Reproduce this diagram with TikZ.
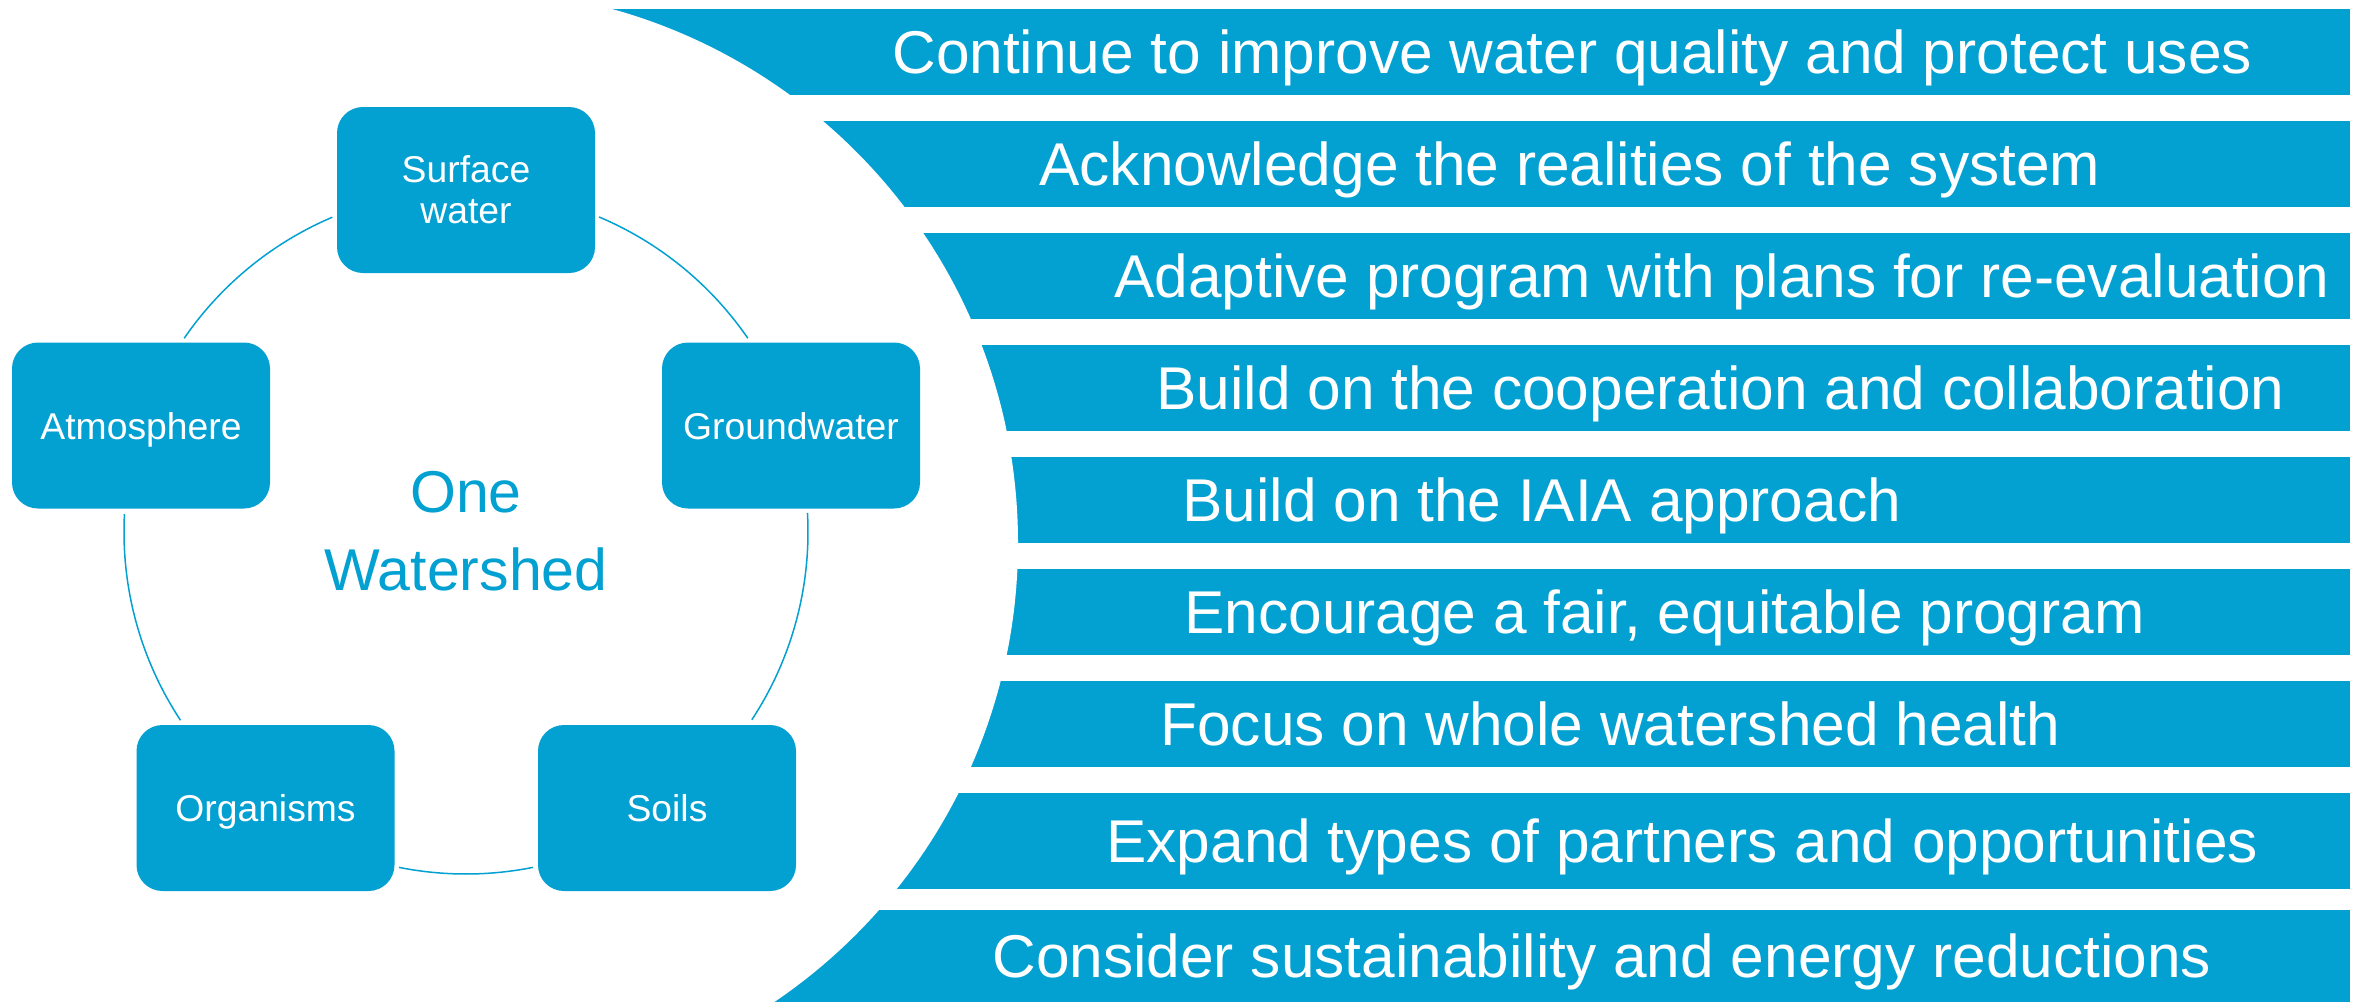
\documentclass[tikz,border=0pt]{standalone}
\usepackage{fontspec}
\setmainfont{Liberation Sans}
\definecolor{wblue}{HTML}{03A0D2}
\begin{document}
\begin{tikzpicture}[x=0.5pt,y=-0.5pt,
  box/.style={fill=wblue, rounded corners=13pt, minimum width=129pt, minimum height=83pt,
    inner sep=0pt, text=white, align=center, font=\fontsize{18.65}{20.5}\selectfont},
  onebox/.style={box, text depth=0pt},
  barfill/.style={fill=wblue},
  bartext/.style={anchor=base west, text=white, inner sep=0pt, font=\fontsize{30.2}{36}\selectfont},
  bigtext/.style={anchor=base, text=wblue, inner sep=0pt, font=\fontsize{29.5}{36}\selectfont},
  cyc/.style={draw=wblue, line width=0.75pt}]
\useasboundingbox (0,0) rectangle (2364,1002);
\clip (0,0) rectangle (2364,1002);
% bars
\foreach \t/\b in {9/95,121/207,233/319,345/431,457/543,569/655,681/767,793/889,910/1002}
  \fill[barfill] (464,\t) rectangle (2350,\b);
% white disc cutting the bars
\fill[white] (464,543) circle[radius=277pt];
% cycle
\coordinate (C) at (466,532);
\node[box] (surf) at (466,190) {Surface\\water};
\node[onebox] (ground) at (791,425.5) {Groundwater};
\node[onebox] (soils) at (667,808) {Soils};
\node[onebox] (org) at (265.5,808) {Organisms};
\node[onebox] (atmo) at (141,425.5) {Atmosphere};
\draw[cyc] ([shift={(-67.1:342)}]C) arc[start angle=-67.1, end angle=-34.5, radius=342];
\draw[cyc] ([shift={(-113:342)}]C) arc[start angle=-113, end angle=-145.5, radius=342];
\draw[cyc] ([shift={(-177:342)}]C) arc[start angle=-177, end angle=-213.4, radius=342];
\draw[cyc] ([shift={(101.3:342)}]C) arc[start angle=101.3, end angle=78.7, radius=342];
\draw[cyc] ([shift={(33.3:342)}]C) arc[start angle=33.3, end angle=-3.2, radius=342];
\node[bigtext] (one) at (466,512) {One};
\node[bigtext] (ws) at (466,590) {Watershed};
% bar texts
\node[bartext] (t1) at (892,73.5) {Continue to improve water quality and protect uses};
\node[bartext] (t2) at (1039,185.5) {Acknowledge the realities of the system};
\node[bartext] (t3) at (1114,297.5) {Adaptive program with plans for re-evaluation};
\node[bartext] (t4) at (1156,409.5) {Build on the cooperation and collaboration};
\node[bartext] (t5) at (1182,521.5) {Build on the IAIA approach};
\node[bartext] (t6) at (1184,633.5) {Encourage a fair, equitable program};
\node[bartext] (t7) at (1160,745.5) {Focus on whole watershed health};
\node[bartext] (t8) at (1106,862.5) {Expand types of partners and opportunities};
\node[bartext] (t9) at (992,977.5) {Consider sustainability and energy reductions};
\end{tikzpicture}
\end{document}
